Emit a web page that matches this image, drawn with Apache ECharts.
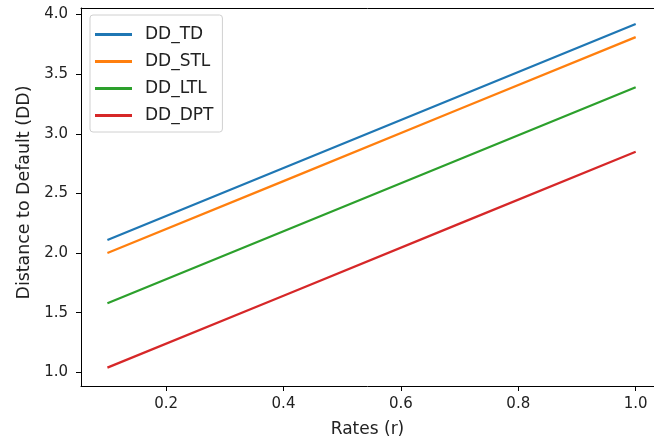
<!DOCTYPE html>
<html>
<head>
<meta charset="utf-8">
<script src="https://cdn.jsdelivr.net/npm/echarts@6/dist/echarts.min.js"></script>
<style>
html,body{margin:0;padding:0;background:#fff;}
#chart{width:654px;height:445px;}
</style>
</head>
<body>
<div id="chart"></div>
<script>
const rates = [0.1, 0.4, 0.7, 1.0];
const ddTD  = [2.11, 2.713, 3.317, 3.92];
const ddSTL = [2.00, 2.603, 3.207, 3.81];
const ddLTL = [1.58, 2.183, 2.787, 3.39];
const ddDPT = [1.04, 1.643, 2.247, 2.85];
const seriesNames = ['DD_TD', 'DD_STL', 'DD_LTL', 'DD_DPT'];
const seriesValues = [ddTD, ddSTL, ddLTL, ddDPT];
const colors = ['#1f77b4', '#ff7f0e', '#2ca02c', '#d62728'];
const xTicks = [0.2, 0.4, 0.6, 0.8, 1.0];
const yTicks = [1.0, 1.5, 2.0, 2.5, 3.0, 3.5, 4.0];

const font = 'DejaVu Sans';
const XMIN = 0.055, XMAX = 1.0312, YMIN = 0.886, YMAX = 4.054;
const chart = echarts.init(document.getElementById('chart'), null, {renderer: 'canvas'});
chart.setOption({
  animation: false,
  backgroundColor: '#fff',
  textStyle: {fontFamily: font},
  grid: {left: 81, top: 8, right: 0, bottom: 59, containLabel: false},
  legend: {
    left: 90, top: 15, orient: 'vertical', icon: 'rect',
    padding: [11, 9, 8, 5],
    itemWidth: 37, itemHeight: 3, itemGap: 10,
    borderColor: '#d0d0d0', borderWidth: 1, borderRadius: 3,
    backgroundColor: 'rgba(255,255,255,0.8)',
    textStyle: {fontFamily: font, fontSize: 17, color: '#222', padding: [0,0,0,8]},
    data: seriesNames
  },
  xAxis: [{
    type: 'value', min: XMIN, max: XMAX,
    name: 'Rates (r)', nameLocation: 'middle', nameGap: 35,
    nameTextStyle: {fontFamily: font, fontSize: 17, color: '#222'},
    axisLine: {show: true, onZero: false, lineStyle: {color: '#000', width: 1}},
    axisTick: {show: true, length: 5, lineStyle: {color: '#000'}, customValues: xTicks},
    axisLabel: {fontFamily: font, fontSize: 15, color: '#222', margin: 11, customValues: xTicks, formatter: v => v.toFixed(1)},
    splitLine: {show: false}
  }, {
    type: 'value', position: 'top', min: XMIN, max: XMAX,
    axisLine: {show: true, onZero: false, lineStyle: {color: '#000', width: 1}},
    axisTick: {show: false}, axisLabel: {show: false}, splitLine: {show: false}
  }],
  yAxis: {
    type: 'value', min: YMIN, max: YMAX,
    name: 'Distance to Default (DD)', nameLocation: 'middle', nameGap: 47,
    nameTextStyle: {fontFamily: font, fontSize: 17.4, color: '#222', padding: [0, 0, 0, 9]},
    axisLine: {show: true, onZero: false, lineStyle: {color: '#000', width: 1}},
    axisTick: {show: true, length: 5, lineStyle: {color: '#000'}, customValues: yTicks},
    axisLabel: {fontFamily: font, fontSize: 15, color: '#222', margin: 13, customValues: yTicks, formatter: v => v.toFixed(1)},
    splitLine: {show: false}
  },
  series: seriesNames.map((n, i) => ({
    name: n, type: 'line', symbol: 'none', showSymbol: false,
    xAxisIndex: 0,
    color: colors[i],
    lineStyle: {width: 2.2, color: colors[i]},
    data: rates.map((r, j) => [r, seriesValues[i][j]])
  }))
});
</script>
</body>
</html>
